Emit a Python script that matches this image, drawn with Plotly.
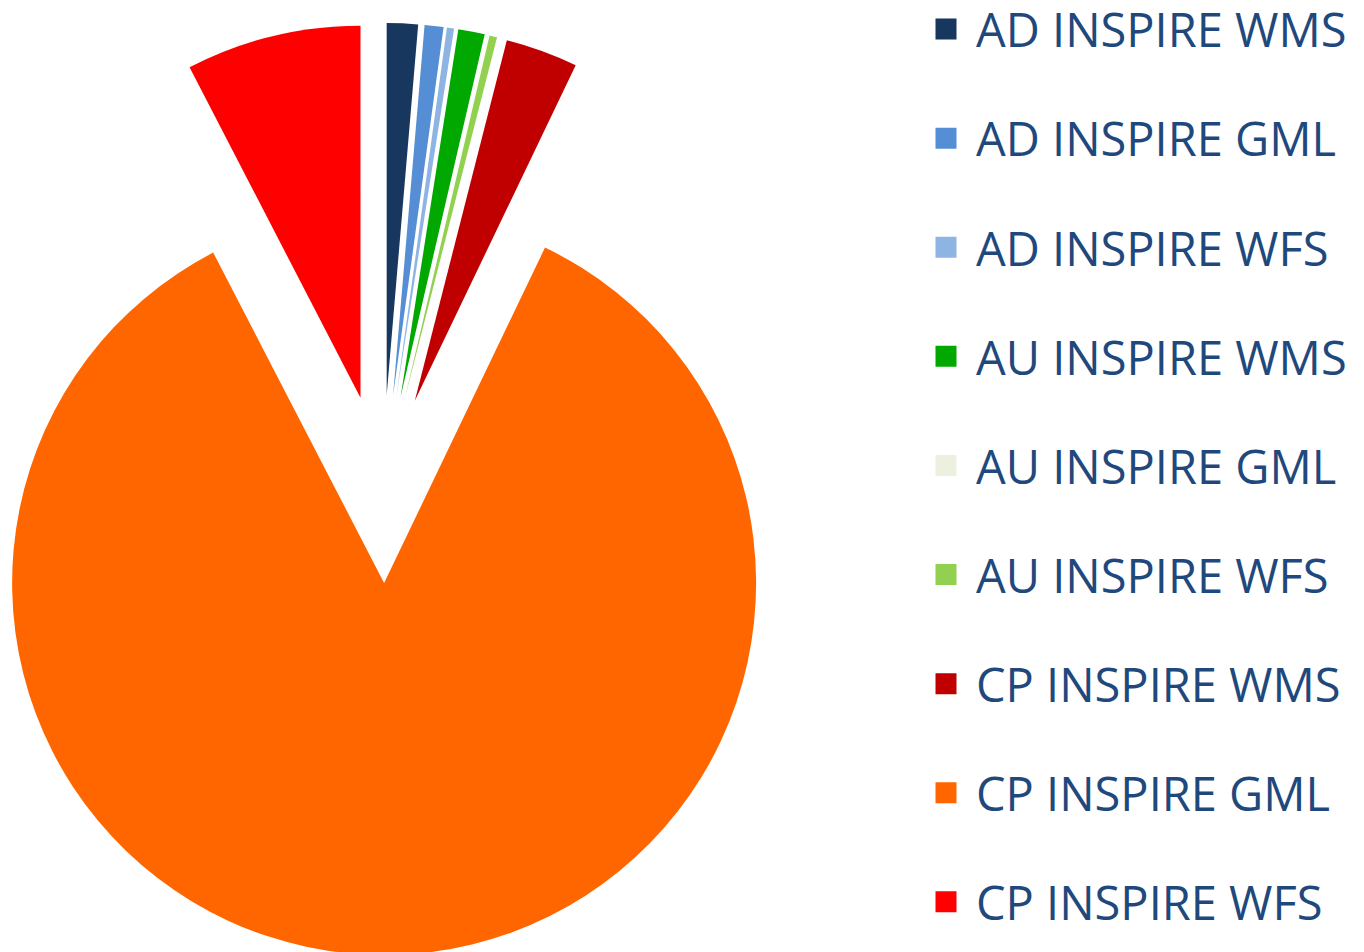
import math
import plotly.graph_objects as go

# ---- data (shares) ----
labels = ["AD INSPIRE WMS", "AD INSPIRE GML", "AD INSPIRE WFS",
          "AU INSPIRE WMS", "AU INSPIRE GML", "AU INSPIRE WFS",
          "CP INSPIRE WMS", "CP INSPIRE GML", "CP INSPIRE WFS"]
values = [1.35, 0.82, 0.31, 1.15, 0.02, 0.33, 3.14, 85.3, 7.6]
colors = ["#17375E", "#558ED5", "#8EB4E3", "#00A800", "#EBF1DE",
          "#92D050", "#C00000", "#FF6600", "#FF0000"]

# ---- layout geometry (px) ----
SHIFT_X, SHIFT_Y = 12, 8        # figure is shifted left/up on the page
W, H = 1364 + SHIFT_X, 960 + SHIFT_Y
CX, CY = 382.7 + SHIFT_X, 489.0 + SHIFT_Y   # common pie centre
R = 372.0                       # radius
PULL = 94.0                     # explosion distance of every slice

fig = go.Figure()
total = sum(values)
cum = 0.0
for i, v in enumerate(values):
    mid = (cum + v / 2.0) / total * 2 * math.pi
    cum += v
    cx = CX + PULL * math.sin(mid)
    cy = CY - PULL * math.cos(mid)
    r = min(R, cx, W - cx, cy, H - cy)
    slice_colors = [colors[j] if j == i else "rgba(0,0,0,0)" for j in range(len(values))]
    fig.add_trace(go.Pie(
        labels=labels, values=values, sort=False, direction="clockwise",
        rotation=0, textinfo="none", showlegend=False,
        marker=dict(colors=slice_colors, line=dict(width=0)),
        domain=dict(x=[(cx - r) / W, (cx + r) / W],
                    y=[1 - (cy + r) / H, 1 - (cy - r) / H]),
        hoverinfo="label+percent",
    ))

for i, lab in enumerate(labels):
    fig.add_trace(go.Scatter(
        x=[None], y=[None], mode="markers", name=lab, legendgroup=lab,
        marker=dict(symbol="square", size=16, color=colors[i],
                    line=dict(width=5, color=colors[i])),
    ))

FS = 47
fig.update_layout(
    width=W, height=H,
    margin=dict(l=0, r=0, t=0, b=0),
    paper_bgcolor="white", plot_bgcolor="white",
    xaxis=dict(visible=False), yaxis=dict(visible=False),
    legend=dict(x=(916 + SHIFT_X) / W, xanchor="left", y=1.0, yanchor="top",
                font=dict(family="Open Sans", size=FS, color="#1F497D"),
                tracegroupgap=109.1 - (FS * 1.3 + 3), itemwidth=50,
                bgcolor="rgba(0,0,0,0)"),
)

post = ("document.body.style.margin='0';"
        "document.body.style.overflow='hidden';"
        "var el=document.getElementById('{plot_id}');"
        "el.style.marginLeft='-%dpx';el.style.marginTop='-%dpx';" % (SHIFT_X, SHIFT_Y))
fig.write_html("out.html", post_script=post, config={"displayModeBar": False})
